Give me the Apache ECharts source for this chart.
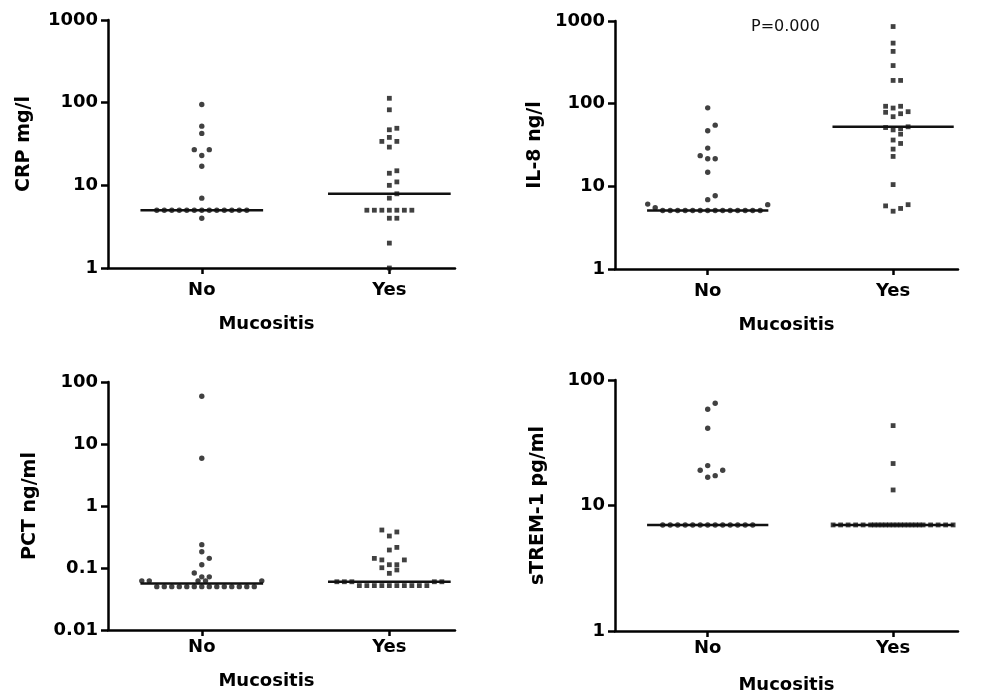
<!DOCTYPE html>
<html><head><meta charset="utf-8">
<script src="https://cdn.jsdelivr.net/npm/echarts@6/dist/echarts.min.js"></script>
<style>html,body{margin:0;padding:0;background:#fff}#c{width:987px;height:697px}</style>
</head><body><div id="c"></div>
<script>
// ---- data ----
const groups = ['No', 'Yes'];
const xTitle = 'Mucositis';
const yTitles = ['CRP mg/l', 'IL-8 ng/l', 'PCT ng/ml', 'sTREM-1 pg/ml'];
const yRanges = [[1, 1000], [1, 1000], [0.01, 100], [1, 100]];
const pLabel = 'P=0.000';

const crpNo = [95, 52, 42.5, 27, 27, 23, 17, 7, 5, 5, 5, 5, 5, 5, 5, 5, 5, 5, 5, 5, 5, 4];
const crpYes = [113, 82, 49, 47, 38, 34, 34, 29, 15, 14, 11, 10, 7.9, 7, 5, 5, 5, 5, 5, 5, 5, 4, 4, 2, 1];
const il8No = [89, 55, 47, 29, 23.5, 21.6, 21.6, 14.8, 7.7, 6.9, 6.1, 6.0, 5.5, 5.1, 5.1, 5.1, 5.1, 5.1, 5.1, 5.1, 5.1, 5.1, 5.1, 5.1, 5.1, 5.1, 5.1];
const il8Yes = [857, 540, 429, 289, 191, 191, 93, 93, 88.5, 80, 78.6, 75.6, 69.6, 52.5, 51.4, 49.9, 48.2, 42.8, 36.3, 33, 28.2, 23, 10.5, 6.0, 5.8, 5.4, 5.0];
const pctNo = [58.8, 5.9, 0.238, 0.183, 0.143, 0.113, 0.083, 0.072, 0.072, 0.062, 0.062, 0.062, 0.062, 0.062, 0.05, 0.05, 0.05, 0.05, 0.05, 0.05, 0.05, 0.05, 0.05, 0.05, 0.05, 0.05, 0.05, 0.05];
const pctYes = [0.41, 0.381, 0.328, 0.215, 0.195, 0.143, 0.135, 0.135, 0.113, 0.113, 0.101, 0.093, 0.082, 0.06, 0.06, 0.06, 0.06, 0.06, 0.052, 0.052, 0.052, 0.052, 0.052, 0.052, 0.052, 0.052, 0.052, 0.052];
const stremNo = [65.3, 58.5, 41.3, 20.8, 19.1, 19.1, 17.3, 16.8, 7, 7, 7, 7, 7, 7, 7, 7, 7, 7, 7, 7, 7];
const stremYes = [43.3, 21.6, 13.3, 7, 7, 7, 7, 7, 7, 7, 7, 7, 7, 7, 7, 7, 7, 7, 7, 7, 7, 7, 7, 7, 7, 7, 7];

const panels = [[crpNo, crpYes], [il8No, il8Yes], [pctNo, pctYes], [stremNo, stremYes]];

// ---- layout / style ----
const FONT = '"DejaVu Sans", sans-serif';
const grids = [
  {left: 108, top: 20, width: 347, height: 248},
  {left: 615, top: 21, width: 343, height: 248},
  {left: 108, top: 382, width: 347, height: 248},
  {left: 615, top: 380, width: 343, height: 251}
];
const xLabelMargin = [13, 13, 8, 8];
const xNameGap = [47, 47, 42, 45];
const xNamePad = [[0, 30, 0, 0], [0, 0, 0, 0], [0, 30, 0, 0], [0, 0, 0, 0]];
const yNameGap = [74, 70, 68, 67];
const X_MIN = 0.5, X_MAX = 2.35;
const MED_HALF = 0.327;
const SP = 7.5, BIN = 7, MAXK = 8;

function fmtNum(v) { return String(+(+v).toPrecision(6)); }
function median(a) {
  const s = a.slice().sort((p, q) => p - q), n = s.length;
  return n % 2 ? s[(n - 1) / 2] : (s[n / 2 - 1] + s[n / 2]) / 2;
}

const chart = echarts.init(document.getElementById('c'), null, {renderer: 'canvas'});

const axisLineStyle = {color: '#000', width: 2.5};
const option = {
  animation: false,
  backgroundColor: '#fff',
  grid: grids,
  xAxis: grids.map((g, i) => ({
    type: 'value', gridIndex: i, min: X_MIN, max: X_MAX,
    axisLine: {show: true, onZero: false, lineStyle: axisLineStyle},
    axisTick: {show: true, customValues: [1, 2], length: 6, lineStyle: {color: '#000', width: 2.5}},
    axisLabel: {show: true, customValues: [1, 2], formatter: v => groups[Math.round(v) - 1],
      color: '#000', fontWeight: 'bold', fontSize: 18, fontFamily: FONT, margin: xLabelMargin[i]},
    splitLine: {show: false},
    name: xTitle, nameLocation: 'middle', nameGap: xNameGap[i],
    nameTextStyle: {color: '#000', fontWeight: 'bold', fontSize: 18, fontFamily: FONT, padding: xNamePad[i]}
  })),
  yAxis: grids.map((g, i) => ({
    type: 'log', logBase: 10, gridIndex: i, min: yRanges[i][0], max: yRanges[i][1],
    axisLine: {show: true, onZero: false, lineStyle: axisLineStyle},
    axisTick: {show: true, length: 7, lineStyle: {color: '#000', width: 2.5}},
    minorTick: {show: false},
    axisLabel: {color: '#000', fontWeight: 'bold', fontSize: 18, fontFamily: FONT, margin: 10, formatter: fmtNum},
    splitLine: {show: false},
    name: yTitles[i], nameLocation: 'middle', nameGap: yNameGap[i],
    nameTextStyle: {color: '#000', fontWeight: 'bold', fontSize: 19, fontFamily: FONT}
  })),
  graphic: [{
    type: 'text', left: 751, top: 19,
    style: {text: pLabel, fill: '#111', font: '16px ' + FONT}
  }],
  series: []
};
chart.setOption(option);

// beeswarm layout computed in pixel space through the chart's own scales
function swarm(values, gi, xc) {
  const pts = values.map(v => ({v: v, py: chart.convertToPixel({gridIndex: gi}, [xc, v])[1]}));
  pts.sort((a, b) => a.v - b.v);
  const pxPerUnit = chart.convertToPixel({gridIndex: gi}, [2, values[0]])[0] -
                    chart.convertToPixel({gridIndex: gi}, [1, values[0]])[0];
  const out = [];
  let row = [];
  const flush = () => {
    row.forEach((p, i) => {
      let slot;
      const cap = 2 * MAXK + 1;
      if (i < cap) {
        slot = i === 0 ? 0 : (i % 2 ? Math.ceil(i / 2) : -i / 2);
      } else {
        const j = i - cap;
        const k = Math.floor(j / 2) + 0.5;
        slot = j % 2 ? -k : k;
      }
      out.push([xc + slot * SP / pxPerUnit, p.v]);
    });
    row = [];
  };
  pts.forEach(p => {
    if (row.length && (row[0].py - p.py) > BIN) flush();
    row.push(p);
  });
  flush();
  return out;
}

const series = [];
panels.forEach((pair, gi) => {
  pair.forEach((vals, k) => {
    const xc = k + 1;
    series.push({
      type: 'scatter', xAxisIndex: gi, yAxisIndex: gi, clip: false,
      symbol: k === 0 ? 'circle' : 'rect', symbolSize: k === 0 ? 5.4 : 4.8,
      itemStyle: {color: '#111'},
      data: swarm(vals, gi, xc), z: 3
    });
    const m = median(vals);
    series.push({
      type: 'line', xAxisIndex: gi, yAxisIndex: gi, symbol: 'none',
      lineStyle: {color: '#111', width: 2.5}, z: 2,
      data: [[xc - MED_HALF, m], [xc + MED_HALF, m]]
    });
  });
});
chart.setOption({series: series});
</script>
</body></html>
